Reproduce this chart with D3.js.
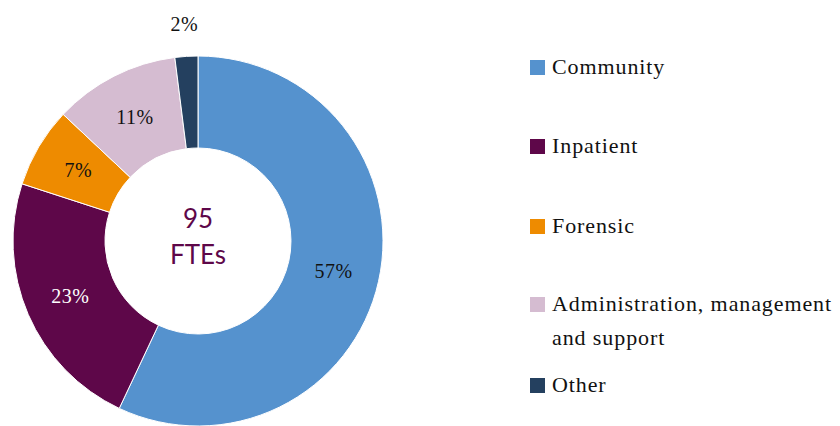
<!DOCTYPE html>
<html>
<head>
<meta charset="utf-8">
<script src="https://cdn.jsdelivr.net/npm/d3@7"></script>
<style>
  html, body { margin: 0; padding: 0; background: #fff; }
  svg { display: block; }
</style>
</head>
<body>
<svg id="chart" width="840" height="426"></svg>
<script>
// Workforce breakdown by service area (share of FTEs)
const categories = ["Community", "Inpatient", "Forensic", "Administration, management and support", "Other"];
const legendLines = [["Community"], ["Inpatient"], ["Forensic"], ["Administration, management", "and support"], ["Other"]];
const shares = [57, 23, 7, 11, 2];
const colours = ["#5592ce", "#5e0749", "#ee8b00", "#d5bcd1", "#24405f"];
const labelColours = ["#111", "#fff", "#111", "#111", "#111"];
const totalFTE = 95;

const svg = d3.select("#chart");
const cx = 198, cy = 241, outerR = 185, innerR = 93;

const pie = d3.pie().sort(null).value(d => d)(shares);
const arc = d3.arc().innerRadius(innerR).outerRadius(outerR);

const g = svg.append("g").attr("transform", `translate(${cx},${cy})`);

g.selectAll("path.slice")
  .data(pie)
  .join("path")
  .attr("class", "slice")
  .attr("d", arc)
  .attr("fill", (d, i) => colours[i])
  .attr("stroke", "#fff")
  .attr("stroke-width", 1);

// Percentage labels: mid-ring, except the small last slice which sits above the ring
const midR = (innerR + outerR) / 2;
const labelArc = d3.arc().innerRadius(midR).outerRadius(midR);
const outsideArc = d3.arc().innerRadius(outerR + 32).outerRadius(outerR + 32);

g.selectAll("text.pct")
  .data(pie)
  .join("text")
  .attr("class", "pct")
  .attr("transform", (d, i) => {
    const p = (i === 4 ? outsideArc : labelArc).centroid(d);
    return `translate(${p[0]},${p[1]})`;
  })
  .attr("text-anchor", "middle")
  .attr("dominant-baseline", "central")
  .attr("font-family", "'Liberation Serif', 'Times New Roman', serif")
  .attr("font-size", 20)
  .attr("letter-spacing", 0.5)
  .attr("fill", (d, i) => labelColours[i])
  .text(d => d.data + "%");

// Centre total
const centre = g.append("text")
  .attr("text-anchor", "middle")
  .attr("font-family", "Lato, 'Open Sans', sans-serif")
  .attr("font-size", 26)
  .attr("fill", "#5e0749");
centre.append("tspan").attr("x", 0).attr("y", -13).text(totalFTE);
centre.append("tspan").attr("x", 0).attr("y", 23).text("FTEs");

// Legend
const legendY = [67, 146, 226, 304, 385];
const legend = svg.append("g").attr("transform", "translate(530,0)");
const items = legend.selectAll("g.item")
  .data(categories)
  .join("g")
  .attr("class", "item")
  .attr("transform", (d, i) => `translate(0,${legendY[i]})`);

items.append("rect")
  .attr("x", 0).attr("y", -7)
  .attr("width", 15).attr("height", 15)
  .attr("fill", (d, i) => colours[i]);

items.append("text")
  .attr("font-family", "'Liberation Serif', 'Times New Roman', serif")
  .attr("font-size", 22)
  .attr("letter-spacing", 0.9)
  .attr("fill", "#111")
  .each(function(d, i) {
    const t = d3.select(this);
    legendLines[i].forEach((line, j) => {
      t.append("tspan").attr("x", 22).attr("y", 7 + j * 34).text(line);
    });
  });
</script>
</body>
</html>
